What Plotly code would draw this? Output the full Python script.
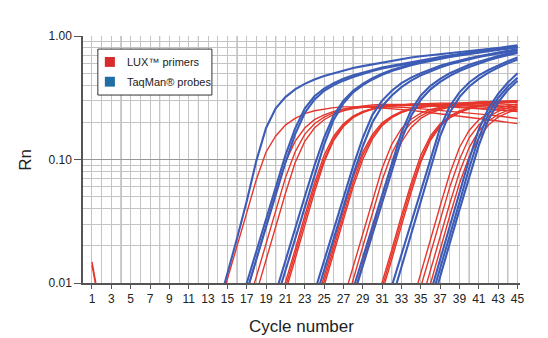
import plotly.graph_objects as go

# ---- amplification data (Rn per cycle); each curve = (first cycle, values on consecutive cycles)
taqman_ct15 = [(14, [0.0062, 0.0118, 0.023, 0.046, 0.098, 0.18, 0.26, 0.32, 0.37, 0.41, 0.445, 0.475, 0.50,
                     0.525, 0.55, 0.57, 0.59, 0.61, 0.63, 0.65, 0.67, 0.685, 0.70, 0.715, 0.73, 0.745, 0.76,
                     0.77, 0.785, 0.795, 0.81, 0.82])]
taqman_ct17 = [(16, [0.0055, 0.0100, 0.018, 0.033, 0.060, 0.108, 0.178, 0.258, 0.325, 0.375, 0.415, 0.45,
                     0.48, 0.505, 0.53, 0.555, 0.575, 0.595, 0.615, 0.635, 0.655, 0.675, 0.695, 0.715, 0.735,
                     0.75, 0.77, 0.785, 0.80, 0.815]),
               (16, [0.0047, 0.0086, 0.0155, 0.028, 0.052, 0.094, 0.16, 0.238, 0.305, 0.36, 0.40, 0.435,
                     0.465, 0.495, 0.52, 0.545, 0.565, 0.585, 0.605, 0.625, 0.645, 0.665, 0.685, 0.705, 0.725,
                     0.745, 0.765, 0.78, 0.795, 0.81])]
taqman_ct20 = [(20, [0.0083, 0.0152, 0.028, 0.050, 0.089, 0.15, 0.228, 0.30, 0.36, 0.41, 0.455, 0.495, 0.53,
                     0.56, 0.59, 0.615, 0.64, 0.665, 0.69, 0.71, 0.735, 0.755, 0.78, 0.80, 0.82, 0.84]),
               (20, [0.0070, 0.0127, 0.023, 0.042, 0.076, 0.132, 0.21, 0.285, 0.35, 0.40, 0.445, 0.485, 0.52,
                     0.55, 0.58, 0.605, 0.63, 0.655, 0.675, 0.695, 0.715, 0.735, 0.755, 0.775, 0.795, 0.815])]
taqman_ct24 = [(24, [0.0084, 0.0152, 0.0275, 0.049, 0.088, 0.15, 0.23, 0.30, 0.36, 0.415, 0.46, 0.50, 0.54,
                     0.575, 0.605, 0.635, 0.66, 0.685, 0.71, 0.735, 0.76, 0.785]),
               (24, [0.0070, 0.0127, 0.023, 0.041, 0.075, 0.128, 0.20, 0.27, 0.33, 0.385, 0.435, 0.48, 0.52,
                     0.555, 0.59, 0.62, 0.65, 0.675, 0.70, 0.725, 0.75, 0.77])]
taqman_ct28 = [(28, [0.0089, 0.016, 0.029, 0.052, 0.094, 0.165, 0.25, 0.33, 0.395, 0.45, 0.50, 0.545, 0.585,
                     0.62, 0.655, 0.69, 0.72, 0.75]),
               (28, [0.0076, 0.0138, 0.025, 0.045, 0.081, 0.145, 0.225, 0.305, 0.37, 0.425, 0.475, 0.52,
                     0.56, 0.60, 0.635, 0.67, 0.70, 0.73])]
taqman_ct32 = [(32, [0.0094, 0.017, 0.031, 0.057, 0.103, 0.18, 0.27, 0.35, 0.42, 0.48, 0.53, 0.58, 0.625, 0.67]),
               (32, [0.0073, 0.0135, 0.025, 0.046, 0.085, 0.155, 0.24, 0.32, 0.39, 0.45, 0.505, 0.555, 0.60, 0.645])]
taqman_ct36 = [(36, [0.0083, 0.0155, 0.029, 0.054, 0.10, 0.175, 0.26, 0.34, 0.42, 0.50]),
               (36, [0.0071, 0.013, 0.024, 0.045, 0.085, 0.15, 0.235, 0.315, 0.39, 0.46]),
               (36, [0.006, 0.011, 0.021, 0.039, 0.072, 0.13, 0.21, 0.29, 0.365, 0.435])]

lux_start = [(1, [0.0148, 0.0055]), (1, [0.0140, 0.0052])]
lux_ct15 = [(14, [0.0058, 0.0106, 0.0198, 0.037, 0.069, 0.115, 0.155, 0.19, 0.215, 0.235, 0.248, 0.257,
                  0.263, 0.267, 0.268, 0.267, 0.265, 0.262, 0.258, 0.254, 0.25, 0.245, 0.24, 0.235, 0.23,
                  0.225, 0.22, 0.215, 0.21, 0.205, 0.20, 0.195])]
lux_ct18 = [(17, [0.0083, 0.0155, 0.029, 0.054, 0.095, 0.14, 0.18, 0.21, 0.23, 0.245, 0.255, 0.262, 0.266,
                  0.268, 0.268, 0.267, 0.265, 0.262, 0.258, 0.254, 0.25, 0.246, 0.242, 0.238, 0.234, 0.23,
                  0.225, 0.22, 0.215]),
            (17, [0.0061, 0.0113, 0.021, 0.039, 0.071, 0.115, 0.16, 0.195, 0.22, 0.24, 0.255, 0.265, 0.272,
                  0.277, 0.279, 0.28, 0.28, 0.279, 0.277, 0.275, 0.272, 0.269, 0.266, 0.263, 0.26, 0.257,
                  0.254, 0.25, 0.246]),
            (18, [0.0083, 0.0155, 0.029, 0.053, 0.094, 0.14, 0.18, 0.21, 0.232, 0.248, 0.258, 0.265, 0.27,
                  0.273, 0.275, 0.275, 0.274, 0.273, 0.271, 0.269, 0.267, 0.264, 0.261, 0.258, 0.255, 0.252,
                  0.249, 0.245])]
lux_ct21 = [(20, [0.0055, 0.010, 0.0186, 0.035, 0.064, 0.108, 0.155, 0.195, 0.225, 0.245, 0.258, 0.267, 0.273,
                  0.277, 0.28, 0.282, 0.282, 0.281, 0.28, 0.278, 0.276, 0.274, 0.272, 0.27, 0.267, 0.264]),
            (20, [0.0046, 0.0083, 0.0155, 0.029, 0.054, 0.095, 0.143, 0.185, 0.218, 0.24, 0.255, 0.265, 0.272,
                  0.277, 0.28, 0.283, 0.285, 0.286, 0.286, 0.286, 0.285, 0.284, 0.283, 0.282, 0.28, 0.278]),
            (20, [0.005, 0.0091, 0.017, 0.032, 0.059, 0.10, 0.148, 0.19, 0.222, 0.243, 0.257, 0.266, 0.272,
                  0.276, 0.278, 0.279, 0.279, 0.278, 0.276, 0.274, 0.271, 0.268, 0.265, 0.262, 0.258, 0.254])]
lux_ct25 = [(24, [0.0061, 0.0113, 0.021, 0.039, 0.071, 0.115, 0.16, 0.198, 0.225, 0.245, 0.258, 0.267, 0.274,
                  0.279, 0.283, 0.286, 0.288, 0.289, 0.29, 0.29, 0.29, 0.29]),
            (24, [0.0051, 0.0094, 0.0175, 0.032, 0.06, 0.10, 0.147, 0.188, 0.218, 0.24, 0.255, 0.265, 0.273,
                  0.279, 0.283, 0.287, 0.29, 0.292, 0.294, 0.295, 0.296, 0.297]),
            (24, [0.0056, 0.0103, 0.019, 0.035, 0.065, 0.108, 0.153, 0.193, 0.222, 0.242, 0.256, 0.265, 0.271,
                  0.275, 0.277, 0.278, 0.278, 0.277, 0.275, 0.273, 0.27, 0.267])]
lux_ct28 = [(27, [0.0073, 0.0136, 0.025, 0.047, 0.085, 0.133, 0.178, 0.212, 0.237, 0.254, 0.266, 0.275, 0.281,
                  0.287, 0.291, 0.294, 0.297, 0.299, 0.30]),
            (27, [0.0057, 0.0106, 0.0197, 0.037, 0.068, 0.112, 0.16, 0.198, 0.226, 0.246, 0.26, 0.27, 0.277,
                  0.283, 0.287, 0.29, 0.292, 0.294, 0.296]),
            (28, [0.0077, 0.0145, 0.027, 0.05, 0.09, 0.138, 0.182, 0.215, 0.238, 0.254, 0.265, 0.273, 0.28,
                  0.285, 0.289, 0.292, 0.294, 0.295])]
lux_ct31 = [(30, [0.0055, 0.010, 0.0186, 0.035, 0.064, 0.108, 0.155, 0.195, 0.225, 0.247, 0.262, 0.273, 0.281,
                  0.287, 0.292, 0.296]),
            (30, [0.0046, 0.0083, 0.0155, 0.029, 0.054, 0.095, 0.143, 0.185, 0.217, 0.24, 0.257, 0.27, 0.279,
                  0.286, 0.292, 0.297]),
            (30, [0.005, 0.0091, 0.017, 0.032, 0.059, 0.10, 0.148, 0.19, 0.221, 0.243, 0.259, 0.271, 0.28,
                  0.286, 0.29, 0.293])]
lux_ct35 = [(34, [0.0064, 0.0121, 0.0225, 0.042, 0.077, 0.125, 0.172, 0.21, 0.238, 0.258, 0.272, 0.282]),
            (34, [0.005, 0.0094, 0.0175, 0.032, 0.06, 0.10, 0.15, 0.19, 0.222, 0.245, 0.262, 0.274]),
            (35, [0.0068, 0.0128, 0.024, 0.044, 0.079, 0.125, 0.17, 0.205, 0.232, 0.25, 0.263]),
            (35, [0.0052, 0.010, 0.0186, 0.035, 0.064, 0.105, 0.15, 0.19, 0.22, 0.24, 0.255])]

tick_cycles = list(range(1, 46, 2))
legend_names = ["LUX\u2122 primers", "TaqMan\u00ae probes"]

LUX_RED = "#e6362c"
TAQ_BLUE = "#3c5cb6"
LEG_RED = "#d92b2b"
LEG_BLUE = "#1f6fa6"

lux_groups = [lux_start, lux_ct15, lux_ct18, lux_ct21, lux_ct25, lux_ct28, lux_ct31, lux_ct35]
taq_groups = [taqman_ct15, taqman_ct17, taqman_ct20, taqman_ct24, taqman_ct28, taqman_ct32, taqman_ct36]

fig = go.Figure()


def add_curves(groups, color, width):
    for group in groups:
        for first, values in group:
            fig.add_trace(go.Scatter(
                x=list(range(first, first + len(values))), y=values, mode="lines",
                line=dict(color=color, width=width), showlegend=False, hoverinfo="skip"))


add_curves(lux_groups, LUX_RED, 1.4)
add_curves(taq_groups, TAQ_BLUE, 2.1)

# darker vertical grid every 4 cycles
for c in range(0, 46, 4):
    fig.add_shape(type="line", x0=c, x1=c, y0=0, y1=1, xref="x", yref="paper",
                  line=dict(color="#9a9a9a", width=1), layer="between")

# boxed key in the upper-left corner of the plot
fig.add_shape(type="rect", xref="paper", yref="paper", x0=0.034, x1=0.295, y0=0.761, y1=0.947,
              line=dict(color="#333", width=1), fillcolor="white", layer="above")
key_rows = [0.895, 0.815]
for name, col, yc in zip(legend_names, [LEG_RED, LEG_BLUE], key_rows):
    fig.add_shape(type="rect", xref="paper", yref="paper", x0=0.050, x1=0.073,
                  y0=yc - 0.02, y1=yc + 0.02, line=dict(width=0), fillcolor=col, layer="above")
    fig.add_annotation(text=name, xref="paper", yref="paper", x=0.095, y=yc,
                       xanchor="left", yanchor="middle", showarrow=False,
                       font=dict(size=11, color="#222"))

# axis titles
fig.add_annotation(text="Cycle number", xref="paper", yref="paper", x=0.5, y=-0.175,
                   xanchor="center", yanchor="middle", showarrow=False, font=dict(size=17, color="#222"))
fig.add_annotation(text="Rn", xref="paper", yref="paper", x=-0.132, y=0.5, textangle=-90,
                   xanchor="center", yanchor="middle", showarrow=False, font=dict(size=17, color="#222"))

fig.update_layout(
    width=548, height=338,
    margin=dict(l=83, r=28, t=36, b=55),
    paper_bgcolor="white", plot_bgcolor="white",
    font=dict(family="Liberation Sans, Arial, sans-serif", color="#222", size=12),
    showlegend=False,
)

fig.update_xaxes(
    range=[0.07, 45.26], tickmode="array", tickvals=tick_cycles, automargin=False,
    ticks="outside", ticklen=4, tickcolor="#555", tickfont=dict(size=12),
    showline=True, linecolor="#555", linewidth=1.5, showgrid=False, zeroline=False,
    minor=dict(dtick=1, tick0=0, showgrid=True, gridcolor="#c4c4c4", gridwidth=1),
)
fig.update_yaxes(
    type="log", range=[-2, 0], tickmode="array", tickvals=[0.01, 0.1, 1], automargin=False,
    ticktext=["0.01", "0.10", "1.00"],
    ticks="outside", ticklen=7, tickcolor="#555", tickfont=dict(size=12),
    showline=True, linecolor="#555", linewidth=1.5,
    showgrid=True, gridcolor="#999", gridwidth=1, zeroline=False,
    minor=dict(dtick="D1", showgrid=True, gridcolor="#c4c4c4", gridwidth=1),
)

fig.write_html("out.html")
